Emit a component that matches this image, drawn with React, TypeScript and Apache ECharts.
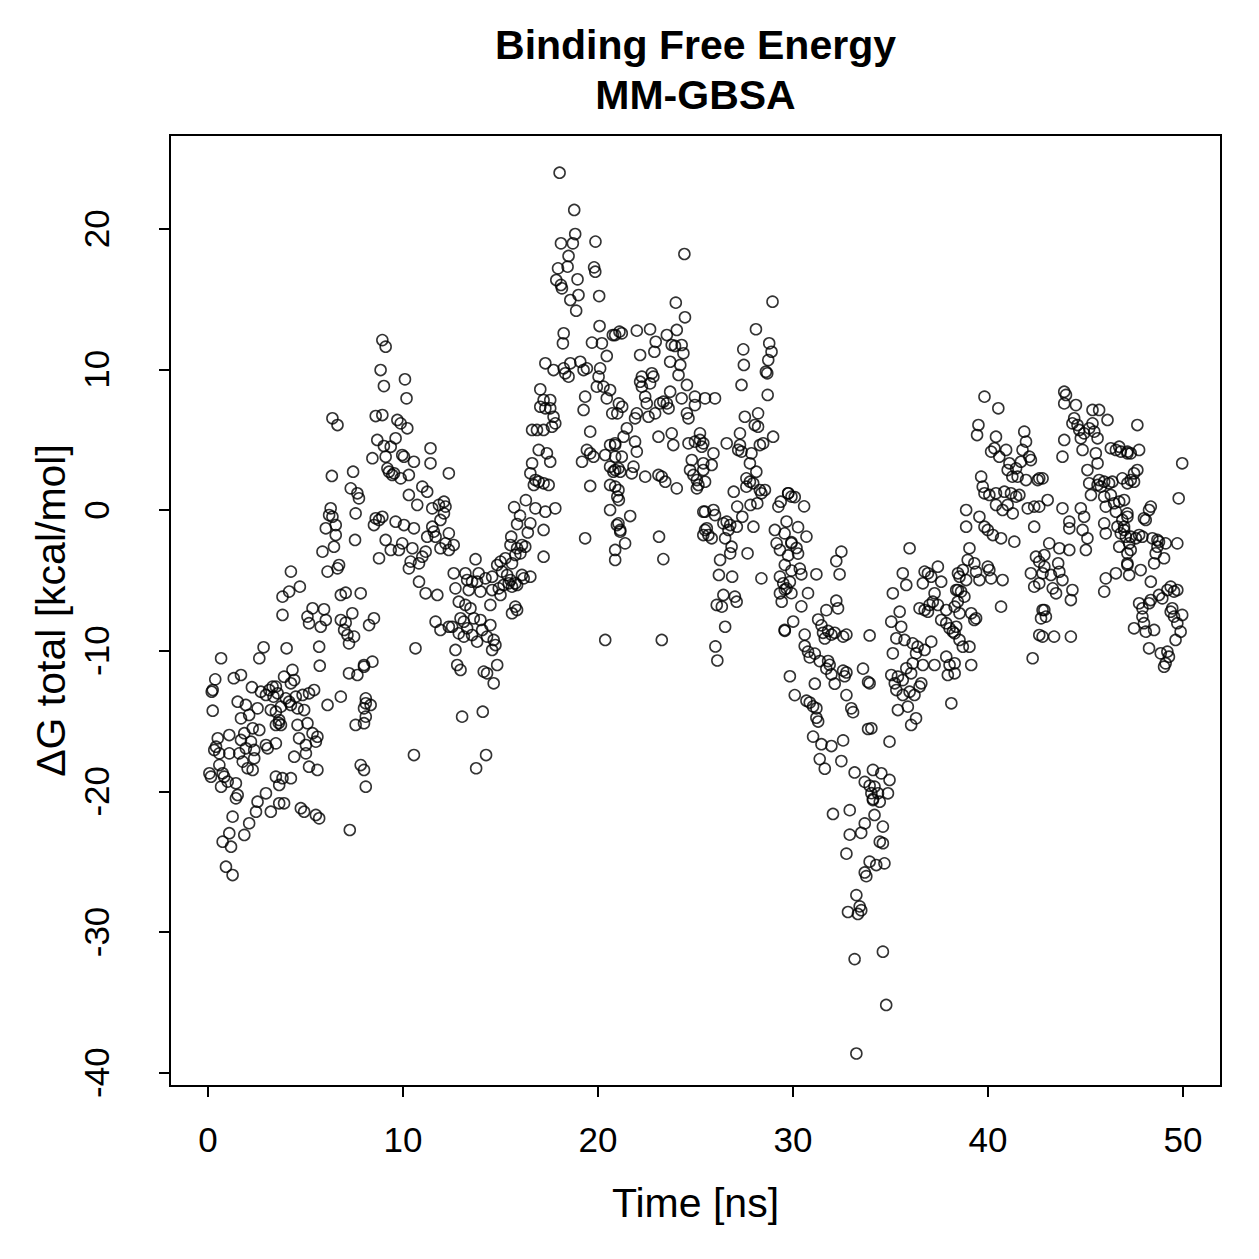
import React, { useEffect, useRef } from "react";
import * as echarts from "echarts";

// Binding free energy (MM-GBSA) per frame: [time (ns), ΔG total (kcal/mol)]
const frames0to4: number[][] = [
  [2.85,-9.76],[2.63,-10.54],[0.67,-10.54],[0.37,-12.04],[1.32,-11.96],[1.69,-11.73],[0.24,-12.8],[0.19,-12.92],[2.25,-12.6],[2.71,-12.92],[3.14,-12.8],[3.31,-12.56],[2.97,-13.15],[3.36,-13.27],[3.57,-13.03],[1.52,-13.63],[1.94,-13.86],[1.69,-14.81],[2.11,-14.57],[2.54,-14.1],[3.22,-14.22],[3.48,-14.34],[0.24,-14.27],[3.48,-15.28],[3.63,-15.14],[2.29,-15.52],[2.63,-15.64],[1.86,-15.87],[1.69,-16.35],[2.2,-16.47],[1.94,-16.94],[2.37,-17.06],[1.6,-17.3],[1.09,-16.0],[0.5,-16.23],[0.41,-16.83],[0.32,-17.06],[0.58,-17.3],[1.09,-17.3],[2.97,-16.71],[3.06,-16.94],[3.48,-16.59],[2.37,-17.65],[1.78,-17.89],[2.03,-18.36],[2.29,-18.48],[0.58,-18.13],[0.07,-18.72],[0.15,-18.96],[0.75,-18.72],[0.83,-18.96],[1.01,-19.31],[0.67,-19.67],[1.43,-19.43],[1.52,-20.26],[1.43,-20.5],[3.48,-18.96],[3.65,-19.55],[2.97,-20.14],[2.54,-20.74],[2.46,-21.45],[3.22,-21.45],[3.65,-20.85],[1.26,-21.8],[2.11,-22.27],[1.86,-23.1],[1.09,-22.98],[0.75,-23.58],[1.18,-23.94],[0.92,-25.36],[1.26,-25.95],
];

const frames4to8: number[][] = [
  [6.38,6.52],[6.64,6.04],[6.35,2.42],[7.44,2.72],[7.32,1.54],[7.66,1.19],[7.74,0.83],[6.29,0.12],[6.21,-0.36],[6.38,-0.48],[6.04,-1.3],[6.55,-1.07],[6.55,-1.78],[6.46,-2.61],[5.87,-2.96],[7.57,-0.24],[7.54,-2.13],[6.13,-4.38],[6.64,-4.15],[6.72,-3.91],[4.25,-4.38],[4.16,-5.8],[3.82,-6.16],[4.71,-5.45],[3.82,-7.46],[6.81,-6.04],[7.06,-5.88],[7.83,-5.92],[5.36,-6.99],[5.95,-7.06],[5.18,-8.05],[5.1,-7.58],[6.04,-7.82],[5.78,-8.3],[6.81,-7.82],[7.06,-8.01],[7.4,-7.34],[6.98,-8.53],[7.15,-8.89],[7.49,-9.0],[7.23,-9.48],[4.03,-9.83],[5.7,-9.72],[5.73,-11.07],[7.23,-11.61],[7.66,-11.73],[8.0,-11.14],[3.9,-11.85],[4.33,-11.37],[4.42,-12.09],[4.25,-12.32],[3.48,-12.56],[3.99,-13.39],[3.74,-13.98],[4.16,-13.63],[4.5,-13.27],[4.85,-13.15],[5.18,-13.03],[5.44,-12.8],[4.25,-13.86],[4.59,-14.1],[4.93,-14.22],[3.65,-14.93],[3.74,-15.28],[4.59,-15.28],[5.1,-15.16],[5.36,-15.87],[5.61,-16.12],[5.53,-16.47],[4.67,-16.23],[5.02,-16.71],[4.42,-17.54],[5.02,-17.3],[5.18,-18.25],[5.61,-18.48],[3.82,-19.07],[4.25,-19.07],[3.9,-20.85],[4.76,-21.2],[4.93,-21.45],[5.53,-21.68],[5.7,-21.92],[7.27,-22.75],[8.0,-15.16],[7.57,-15.28],[7.83,-18.13],[8.0,-18.48],[8.09,-19.67],[6.81,-13.27],[6.13,-13.86],[8.09,-13.74],
];

const frames8to12: number[][] = [
  [8.94,12.08],[9.11,11.61],[8.85,9.95],[9.02,8.81],[10.1,9.29],[10.18,7.94],[8.6,6.68],[8.94,6.75],[9.71,6.4],[9.88,6.16],[10.22,5.81],[8.68,4.98],[9.02,4.55],[9.37,4.5],[9.62,5.1],[8.43,3.68],[9.11,3.79],[9.96,3.91],[10.05,3.79],[10.56,3.43],[11.41,4.39],[11.41,3.32],[9.2,2.96],[9.28,2.72],[9.45,2.49],[9.54,2.61],[9.88,2.25],[10.3,2.49],[10.99,1.66],[11.24,1.3],[10.3,1.07],[10.73,0.36],[11.5,0.12],[11.84,0.36],[12.1,0.59],[12.35,2.61],[8.6,-0.59],[8.77,-0.71],[8.51,-1.07],[8.94,-0.48],[9.62,-0.83],[10.05,-1.07],[10.56,-1.3],[9.11,-2.13],[9.37,-2.84],[9.79,-2.84],[9.96,-2.37],[10.48,-2.72],[8.77,-3.43],[11.24,-1.9],[11.5,-1.19],[11.58,-1.54],[11.67,-1.9],[11.92,-0.71],[12.1,-0.24],[12.18,0.24],[11.92,-2.72],[11.16,-2.96],[10.99,-3.32],[10.82,-3.79],[10.39,-3.67],[10.3,-4.15],[12.35,-1.66],[12.35,-2.84],[10.82,-5.1],[11.16,-5.92],[11.76,-6.04],[8.51,-7.7],[8.26,-8.18],[11.67,-7.94],[11.92,-8.53],[12.35,-8.3],[10.64,-9.83],[8.43,-10.78],[8.0,-11.02],[8.09,-13.39],[8.34,-13.86],[8.0,-14.1],[8.09,-14.69],[10.56,-17.42],
];

const frames12to17: number[][] = [
  [12.18,-2.37],[12.6,-2.49],[15.51,-2.49],[15.85,-2.72],[16.1,-2.49],[16.02,-3.08],[16.27,-2.61],[13.72,-3.5],[14.83,-3.91],[15.0,-3.67],[15.25,-3.43],[15.59,-3.79],[15.76,-3.2],[12.6,-4.5],[13.2,-4.5],[13.29,-4.98],[13.88,-4.5],[14.23,-4.86],[14.57,-4.74],[15.08,-4.38],[15.34,-4.62],[15.51,-4.98],[15.76,-5.21],[16.19,-4.86],[12.69,-5.57],[13.37,-5.69],[13.97,-5.8],[14.57,-5.69],[14.91,-5.57],[15.0,-6.04],[15.16,-5.33],[15.59,-5.45],[15.42,-5.21],[15.85,-5.33],[16.1,-4.62],[13.54,-5.1],[13.8,-5.1],[12.86,-6.52],[13.2,-6.75],[13.46,-6.99],[14.48,-6.75],[15.76,-6.87],[15.85,-7.11],[15.59,-7.34],[12.95,-7.7],[13.12,-7.94],[12.52,-8.3],[13.29,-8.41],[13.63,-7.7],[13.97,-7.82],[14.48,-8.18],[12.86,-8.77],[13.12,-9.0],[13.54,-8.89],[13.8,-9.36],[14.06,-8.53],[14.31,-9.0],[14.65,-9.24],[14.74,-9.6],[14.57,-9.95],[12.69,-9.95],[12.78,-11.02],[12.95,-11.37],[14.14,-11.49],[14.31,-11.61],[14.83,-11.02],[14.65,-12.32],[13.03,-14.69],[14.09,-14.34],[14.26,-17.42],[13.75,-18.36],
  [15.7,0.2],[16.0,-0.4],[15.85,-1.0],[16.3,0.7],[16.4,-1.6],[15.55,-1.9],
];

const frames17to21: number[][] = [
  [18.03,23.98],[18.78,21.33],[18.83,19.62],[18.71,18.96],[18.1,18.96],[18.49,18.06],[18.44,17.3],[17.95,17.18],[17.86,16.35],[18.1,16.0],[18.15,15.76],[18.95,16.4],[19.0,15.28],[18.58,14.93],[18.88,14.17],[19.87,19.08],[19.8,17.25],[19.86,16.94],[20.06,15.21],[18.24,12.56],[18.2,11.85],[20.08,13.08],[20.76,12.44],[21.1,12.68],[19.69,11.9],[20.2,11.85],[20.45,10.95],[17.3,10.43],[17.72,9.95],[18.24,10.07],[18.32,9.72],[18.49,9.48],[18.58,10.43],[19.09,10.54],[19.26,9.95],[19.43,10.07],[20.11,10.07],[20.03,9.48],[19.94,8.77],[20.28,8.77],[20.62,8.53],[20.45,7.94],[19.34,8.06],[19.26,7.11],[17.04,8.58],[17.55,7.82],[17.21,7.82],[17.04,7.34],[17.3,7.23],[17.55,7.23],[17.72,6.63],[17.81,6.16],[17.64,5.92],[16.87,5.69],[16.62,5.69],[17.21,5.69],[16.96,4.27],[17.38,4.03],[17.55,3.43],[16.62,3.32],[16.53,2.61],[16.79,2.13],[16.96,2.01],[17.21,1.9],[17.47,1.78],[16.71,1.78],[16.79,0.12],[17.3,-0.12],[17.81,0.12],[17.21,-1.42],[16.53,-0.95],[17.21,-3.32],[16.53,-4.74],[19.6,5.57],[19.43,4.27],[19.6,4.03],[19.18,3.43],[19.77,3.79],[20.37,3.91],[19.6,1.71],[19.34,-2.01],[20.62,4.62],[20.88,4.62],[20.62,3.08],[20.79,2.72],[21.05,2.96],[20.62,1.78],[21.05,1.42],[20.62,0],[20.97,-1.07],[21.14,-1.42],[20.88,-2.84],[20.37,-9.24],
];

const frames21to25: number[][] = [
  [24.43,18.2],[23.99,14.74],[24.46,13.7],[20.88,12.44],[21.22,12.56],[21.99,12.75],[22.67,12.85],[22.96,11.96],[22.89,11.25],[22.16,11.02],[23.53,12.44],[24.04,12.8],[23.78,11.73],[23.95,11.66],[24.29,11.73],[24.38,11.14],[23.7,10.54],[24.22,10.31],[24.13,9.6],[24.56,8.89],[22.25,9.48],[22.16,9.12],[22.25,8.77],[22.76,9.72],[22.84,9.48],[22.67,9.0],[21.07,7.58],[21.24,7.34],[20.99,6.87],[20.73,6.87],[21.99,6.87],[21.9,6.52],[22.42,8.06],[22.5,7.58],[22.59,6.63],[22.93,6.87],[23.18,7.58],[23.35,7.7],[23.53,7.58],[23.7,8.41],[23.62,7.23],[24.29,7.94],[24.97,8.06],[24.97,7.46],[24.56,6.87],[24.64,6.52],[21.48,5.81],[21.31,5.21],[21.9,4.86],[21.99,4.15],[20.88,4.74],[20.88,3.79],[21.22,3.79],[21.14,2.72],[20.88,2.84],[21.82,3.08],[21.73,2.61],[22.42,2.37],[23.1,5.21],[23.78,5.45],[23.86,4.62],[23.1,2.49],[23.27,2.37],[23.45,2.01],[24.04,1.54],[24.64,4.74],[24.97,4.86],[25.23,4.98],[25.32,4.5],[24.81,3.55],[24.72,2.84],[24.89,2.49],[25.07,2.13],[25.15,1.78],[25.4,2.84],[25.07,1.54],[20.88,1.66],[20.99,0.95],[21.07,0.71],[21.65,-0.43],[21.05,-0.95],[21.14,-1.54],[21.39,-2.37],[20.88,-3.55],[23.13,-1.9],[23.35,-3.49],[25.4,-0.12],[25.49,-1.42],[25.4,-1.78],[23.27,-9.24],
];

const frames25to30: number[][] = [
  [28.95,14.81],[28.1,12.85],[27.45,11.42],[27.48,10.31],[27.36,8.89],[28.78,11.85],[28.9,11.25],[28.73,10.66],[28.61,9.83],[28.68,9.72],[28.7,8.18],[25.49,7.94],[26.0,7.94],[27.53,6.63],[28.21,6.87],[28.04,6.04],[28.21,5.92],[27.28,5.45],[28.98,5.21],[28.47,4.74],[28.3,4.62],[25.23,5.45],[25.4,4.74],[26.6,4.74],[27.28,4.62],[27.19,4.27],[27.36,4.15],[25.92,4.03],[25.4,3.32],[25.83,3.2],[27.79,3.32],[27.87,4.03],[28.12,2.72],[27.61,2.25],[27.79,2.01],[27.96,1.9],[27.61,1.66],[28.3,1.42],[28.38,1.19],[28.56,1.42],[25.49,2.01],[26.96,1.3],[27.14,0.24],[27.4,-0.48],[27.82,0.36],[28.17,0.48],[29.37,0.59],[29.25,0.24],[29.76,1.19],[29.92,0.95],[25.49,-0.12],[25.92,0],[26.0,-0.36],[25.58,-1.3],[25.66,-1.78],[25.83,-2.01],[26.43,-0.95],[26.6,-0.83],[26.78,-1.07],[26.69,-1.42],[26.52,-2.01],[27.12,-1.19],[27.97,-1.19],[29.07,-1.42],[29.57,-1.66],[29.16,-2.37],[29.33,-2.84],[26.85,-2.61],[26.78,-3.08],[26.26,-3.55],[27.67,-3.08],[29.92,-2.37],[26.2,-4.62],[26.88,-4.74],[28.38,-4.86],[29.33,-4.74],[29.5,-5.21],[29.67,-5.57],[29.33,-5.92],[29.42,-6.52],[26.43,-6.04],[27.02,-6.16],[27.11,-6.52],[26.09,-6.75],[26.35,-6.87],[26.52,-8.3],[29.57,-8.53],[26.02,-9.7],[26.12,-10.7],
];

const frames30to34: number[][] = [
  [29.75,1.19],[30.09,0.92],[30.57,0.26],[29.67,-0.82],[30.26,-1.22],[30.69,-1.89],[29.92,-2.29],[30.18,-2.7],[30.26,-3.1],[29.75,-3.23],[29.58,-3.9],[29.92,-4.31],[30.35,-4.17],[30.43,-4.57],[31.2,-4.57],[29.84,-5.11],[29.58,-5.65],[29.92,-5.91],[30.77,-5.91],[30.43,-6.85],[30.01,-7.93],[29.58,-8.59],
  [32.48,-2.96],[32.22,-3.63],[32.39,-4.57],[32.22,-6.45],[32.31,-6.99],[31.71,-7.12],[31.29,-7.79],[31.46,-8.2],[31.54,-8.73],[31.8,-8.6],[31.63,-9.13],[31.97,-8.86],[32.14,-8.73],[32.57,-9.0],[32.74,-8.86],[30.6,-8.86],[33.93,-8.92],
  [30.6,-9.67],[30.77,-10.07],[30.86,-10.48],[31.12,-10.21],[31.37,-10.74],[31.8,-10.74],[31.71,-11.28],[31.97,-11.68],[31.88,-11.01],[32.14,-12.35],[32.65,-11.82],[32.74,-11.55],[32.57,-11.42],[29.84,-11.82],[33.59,-11.28],[33.85,-12.22],[31.12,-12.35],[30.09,-13.16],[30.69,-13.56],[30.86,-13.69],[31.03,-13.96],[31.2,-14.1],[31.2,-14.77],[31.29,-15.04],[32.74,-13.16],[32.99,-14.1],[33.08,-14.37],[33.85,-15.57],[31.03,-16.11],[31.46,-16.65],[31.97,-16.78],[32.57,-16.38],[31.37,-17.71],[31.63,-18.39],[32.48,-17.85],[33.16,-18.66],[33.68,-19.33],[33.93,-19.6],[34.02,-20.13],[34.1,-20.54],[32.05,-21.61],[32.91,-21.34],[32.91,-23.08],[33.5,-22.95],[33.68,-22.28],[32.74,-24.43],[33.68,-25.77],[33.76,-26.03],[33.25,-27.38],[33.42,-28.18],[33.5,-28.45],[32.82,-28.58],[33.33,-28.72],[33.16,-31.93],[33.25,-38.64],
];

const frames34to38: number[][] = [
  [35.98,-2.72],[35.63,-4.5],[35.81,-5.33],[35.12,-5.92],[36.75,-4.38],[36.92,-4.5],[37.09,-4.74],[37.43,-4.03],[37.6,-5.1],[36.66,-5.21],[37.26,-5.92],[37.17,-6.52],[37.0,-6.75],[37.43,-6.75],[37.86,-7.11],[36.49,-6.99],[36.75,-7.11],[36.92,-7.23],[37.6,-7.82],[37.86,-8.05],[38.03,-8.41],[38.2,-8.65],[38.29,-6.87],[38.46,-4.5],[38.46,-5.69],[35.47,-7.23],[35.04,-7.94],[35.55,-8.3],[35.3,-9.12],[35.72,-9.24],[35.12,-10.19],[36.14,-9.48],[36.39,-9.72],[36.31,-10.19],[36.75,-9.95],[37.09,-9.36],[37.26,-11.02],[36.66,-11.02],[36.14,-10.9],[35.81,-11.25],[35.04,-11.73],[35.38,-11.85],[35.63,-12.09],[36.06,-11.61],[36.58,-12.32],[36.49,-12.56],[35.22,-12.32],[35.3,-12.8],[35.63,-13.15],[35.98,-12.92],[36.23,-13.15],[35.38,-14.22],[35.89,-13.98],[36.31,-14.81],[36.06,-15.28],[37.86,-10.43],[38.03,-11.02],[37.94,-11.73],[38.12,-13.74],[33.93,-12.32],[34.02,-15.52],[34.95,-16.47],[34.1,-18.48],[34.53,-18.72],[34.95,-19.19],[34.18,-19.67],[34.36,-20.14],[34.87,-20.14],[34.1,-20.62],[34.45,-20.74],[34.18,-21.68],[34.61,-22.51],[34.45,-23.58],[34.61,-23.69],[33.93,-25.0],[34.27,-25.24],[34.69,-25.12],[34.61,-31.4],[34.78,-35.19],
];

const frames38to43: number[][] = [
  [39.82,8.06],[40.53,7.23],[39.51,6.04],[39.44,5.33],[40.41,5.21],[41.86,5.57],[41.95,4.86],[40.33,4.39],[40.16,4.15],[40.58,3.79],[40.93,4.27],[41.1,3.32],[41.01,2.84],[41.44,2.96],[41.52,2.37],[41.69,3.43],[41.77,4.27],[42.12,3.79],[42.2,3.55],[41.25,2.37],[41.95,2.13],[42.55,2.13],[42.8,2.25],[39.65,2.37],[39.73,1.66],[39.82,1.19],[40.07,1.07],[40.41,1.19],[40.84,1.3],[41.18,1.19],[41.44,0.95],[41.61,1.07],[40.41,0.36],[40.75,0],[41.01,0.36],[41.27,-0.24],[42.04,0.12],[42.37,0.24],[38.88,0],[38.88,-1.19],[39.56,-0.48],[39.82,-1.19],[39.99,-1.42],[40.25,-1.78],[40.67,-2.01],[41.35,-2.25],[42.37,-1.19],[39.05,-2.72],[38.96,-3.55],[38.71,-4.27],[38.54,-4.74],[38.88,-4.98],[39.3,-3.79],[39.39,-4.39],[39.56,-4.98],[39.99,-4.03],[40.07,-4.27],[40.16,-4.86],[40.75,-4.98],[38.62,-5.8],[38.37,-5.69],[38.79,-6.16],[38.45,-6.52],[40.67,-6.87],[38.54,-7.34],[39.14,-7.34],[39.39,-7.7],[39.3,-7.82],[38.37,-8.3],[38.29,-8.77],[38.54,-9.24],[38.71,-9.72],[39.05,-9.72],[39.14,-11.02],[38.29,-10.9],[38.29,-11.61],[42.2,-4.5],[42.37,-5.45],[42.46,-3.32],[42.29,-10.54],[42.8,-7.11],[42.72,-7.7],[42.63,-8.89],
];

const frames43to47: number[][] = [
  [43.91,8.41],[44.0,8.18],[43.91,7.58],[44.51,7.46],[45.36,7.11],[45.7,7.11],[46.13,6.4],[44.42,6.52],[44.33,6.16],[44.59,6.04],[44.68,5.69],[44.93,5.45],[45.19,5.81],[45.36,6.16],[45.45,5.57],[45.62,5.1],[44.76,5.1],[43.91,4.98],[44.85,4.27],[43.82,3.79],[45.53,4.03],[45.62,3.32],[46.3,4.39],[46.56,4.27],[46.73,4.5],[46.81,4.15],[47.15,4.03],[45.1,2.84],[45.19,1.9],[45.28,1.07],[45.62,1.78],[45.79,1.66],[45.7,2.13],[45.96,2.01],[46.21,1.9],[46.38,2.01],[46.89,2.25],[47.15,1.9],[45.96,0.95],[46.3,1.07],[46.47,0.48],[46.73,0.59],[46.04,0.24],[46.56,-0.12],[46.89,-0.71],[47.15,-0.24],[46.98,-1.42],[42.63,2.25],[43.06,0.71],[42.63,0.24],[43.82,0.12],[44.76,0.12],[44.93,-0.48],[44.17,-0.83],[44.17,-1.3],[44.85,-1.42],[45.1,-2.01],[45.02,-2.84],[45.96,-0.95],[46.04,-1.66],[46.64,-1.19],[46.81,-1.66],[46.73,-2.61],[47.15,-3.08],[43.14,-2.37],[42.89,-3.2],[43.66,-2.72],[44.17,-2.84],[42.63,-3.67],[42.89,-4.03],[43.6,-3.79],[43.66,-4.39],[43.23,-4.62],[42.8,-4.5],[43.32,-5.57],[43.49,-5.92],[43.82,-4.98],[44.33,-5.69],[44.25,-6.4],[42.63,-5.21],[42.89,-7.11],[42.97,-7.58],[42.8,-9.0],[43.39,-9.0],[44.25,-9.0],[46.04,-4.86],[46.56,-4.5],[45.96,-5.8],[47.15,-3.91],
];

const frames47to50: number[][] = [
  [47.66,6.04],[47.15,4.15],[47.32,4.03],[47.75,4.27],[47.66,2.84],[47.49,2.61],[47.32,2.13],[47.49,2.01],[49.96,3.32],[49.78,0.83],[46.98,0.71],[47.15,-0.48],[46.98,-1.19],[47.07,-1.9],[47.32,-1.9],[47.24,-2.37],[47.32,-2.84],[47.58,-2.01],[47.75,-1.78],[47.92,-1.9],[48.09,-0.71],[48.26,0],[48.35,0.24],[48.0,-0.59],[48.43,-2.01],[48.69,-2.13],[48.77,-2.25],[49.11,-2.37],[49.71,-2.37],[48.6,-3.08],[49.03,-3.43],[48.52,-3.79],[47.15,-3.79],[47.24,-4.62],[47.83,-4.27],[48.35,-5.1],[48.69,-2.61],[47.75,-6.63],[47.92,-6.99],[48.26,-6.63],[48.35,-6.4],[48.77,-6.04],[48.94,-6.28],[49.2,-5.69],[49.37,-5.45],[49.54,-5.8],[49.71,-5.69],[49.45,-6.99],[49.37,-7.23],[49.54,-7.58],[49.96,-7.46],[49.71,-8.05],[49.88,-8.65],[49.62,-9.24],[47.92,-7.58],[48.0,-8.05],[47.49,-8.41],[48.09,-8.65],[48.52,-8.53],[48.26,-9.83],[48.86,-10.19],[49.2,-10.07],[49.28,-10.43],[49.11,-10.9],[49.03,-11.14],
];

const xTicks = [0, 10, 20, 30, 40, 50];
const yTicks = [-40, -30, -20, -10, 0, 10, 20];

const titleLines = ["Binding Free Energy", "MM-GBSA"];
const xTitle = "Time [ns]";
const yTitle = "\u0394G total [kcal/mol]";

const FONT = '"Liberation Sans", Arial, Helvetica, sans-serif';

export default function App() {
  const ref = useRef<HTMLDivElement>(null);

  useEffect(() => {
    if (!ref.current) return;
    const chart = echarts.init(ref.current, undefined, { renderer: "svg" });
    const points = [
      ...frames0to4, ...frames4to8, ...frames8to12, ...frames12to17,
      ...frames17to21, ...frames21to25, ...frames25to30, ...frames30to34,
      ...frames34to38, ...frames38to43, ...frames43to47, ...frames47to50,
    ];
    const tickLabelStyle = { color: "#000", fontSize: 35, fontFamily: FONT };
    const axisTitleStyle = { color: "#000", fontSize: 41, fontFamily: FONT };
    const tick = { show: true, inside: false, length: 11, lineStyle: { color: "#000", width: 2 } };
    chart.setOption({
      animation: false,
      backgroundColor: "#fff",
      grid: {
        left: 170, top: 135, width: 1051, height: 951,
        show: true, borderColor: "#000", borderWidth: 2,
        backgroundColor: "transparent",
      },
      xAxis: {
        type: "value",
        position: "bottom",
        min: -1.95, max: 51.95,
        splitLine: { show: false },
        axisLine: { show: false, onZero: false },
        axisTick: { ...tick, customValues: xTicks },
        axisLabel: { ...tickLabelStyle, margin: 36, customValues: xTicks },
        name: xTitle,
        nameLocation: "middle",
        nameGap: 96,
        nameTextStyle: axisTitleStyle,
      },
      yAxis: {
        type: "value",
        position: "left",
        min: -40.95, max: 26.66,
        splitLine: { show: false },
        axisLine: { show: false, onZero: false },
        axisTick: { ...tick, customValues: yTicks },
        axisLabel: { ...tickLabelStyle, margin: 56, rotate: 90, customValues: yTicks },
        name: yTitle,
        nameLocation: "middle",
        nameRotate: 90,
        nameGap: 94,
        nameTextStyle: axisTitleStyle,
      },
      graphic: titleLines.map((t, i) => ({
        type: "text",
        x: 695.5,
        y: 45 + i * 50,
        style: {
          text: t, fill: "#000", fontSize: 41, fontWeight: "bold", fontFamily: FONT,
          align: "center", verticalAlign: "middle",
        },
      })),
      series: [
        {
          type: "scatter",
          data: points,
          symbol: "circle",
          symbolSize: 11,
          silent: true,
          itemStyle: { color: "rgba(0,0,0,0)", borderColor: "#000", borderWidth: 1.6 },
        },
      ],
    });
    return () => chart.dispose();
  }, []);

  return (
    <div
      ref={ref}
      style={{ position: "absolute", left: 0, top: 0, width: 1259, height: 1259, background: "#fff" }}
    />
  );
}
